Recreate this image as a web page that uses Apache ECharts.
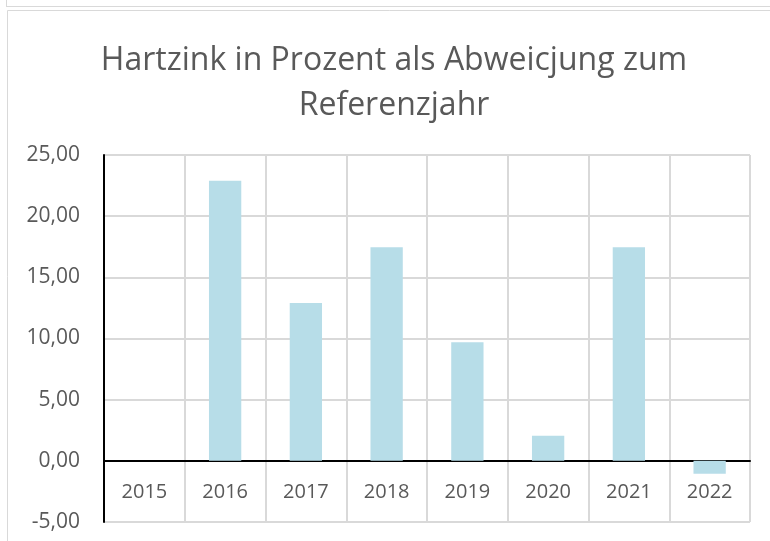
<!DOCTYPE html>
<html>
<head>
<meta charset="utf-8">
<script src="https://cdn.jsdelivr.net/npm/echarts@6/dist/echarts.min.js"></script>
<style>
  html, body { margin: 0; padding: 0; background: #fff; }
  #chart { width: 770px; height: 541px; }
</style>
</head>
<body>
<div id="chart"></div>
<script>
// Daten
var jahre = ['2015', '2016', '2017', '2018', '2019', '2020', '2021', '2022'];
var abweichung = [0, 22.9, 12.9, 17.45, 9.7, 2.05, 17.45, -1.05];
var titelText = 'Hartzink in Prozent als Abweicjung zum\nReferenzjahr';

var schrift = '"Open Sans", "Noto Sans", sans-serif';
var textFarbe = '#595959';
var gitterFarbe = '#d9d9d9';

var myChart = echarts.init(document.getElementById('chart'));

var option = {
    animation: false,
    title: {
        text: titelText,
        left: 389,
        textAlign: 'center',
        top: 33,
        textStyle: {
            fontFamily: schrift,
            fontSize: 32,
            fontWeight: 'normal',
            color: textFarbe,
            lineHeight: 45,
            align: 'center'
        }
    },
    graphic: [
        // Rahmen wie im Excel-Diagramm
        { type: 'line', shape: { x1: 6.5, y1: 0, x2: 6.5, y2: 6 }, style: { stroke: gitterFarbe, lineWidth: 1 } },
        { type: 'line', shape: { x1: 6, y1: 6.5, x2: 770, y2: 6.5 }, style: { stroke: gitterFarbe, lineWidth: 1 } },
        { type: 'rect', shape: { x: 7.5, y: 10.5, width: 800, height: 600 }, style: { fill: 'none', stroke: gitterFarbe, lineWidth: 1 } }
    ],
    grid: {
        left: 104,
        right: 20,
        top: 155,
        bottom: 19,
        containLabel: false,
        outerBoundsMode: 'none'
    },
    xAxis: {
        type: 'category',
        data: jahre,
        boundaryGap: true,
        axisLine: { onZero: true, lineStyle: { color: '#000', width: 2 } },
        axisTick: { show: false },
        axisLabel: {
            // Beschriftung unter der Nulllinie (zwischen 0 und -5)
            margin: -40,
            fontFamily: schrift,
            fontSize: 20,
            color: textFarbe
        },
        splitLine: { show: true, interval: 0, lineStyle: { color: gitterFarbe, width: 2 } }
    },
    yAxis: {
        type: 'value',
        min: -5,
        max: 25,
        interval: 5,
        axisLine: { show: true, onZero: false, lineStyle: { color: '#000', width: 2 } },
        axisTick: { show: false },
        axisLabel: {
            margin: 24,
            fontFamily: schrift,
            fontSize: 21,
            color: textFarbe,
            formatter: function (v) { return v.toFixed(2).replace('.', ','); }
        },
        splitLine: { show: true, lineStyle: { color: gitterFarbe, width: 2 } }
    },
    series: [
        {
            type: 'bar',
            data: abweichung,
            barWidth: '40%',
            itemStyle: { color: '#b7dde8' }
        }
    ]
};
myChart.setOption(option);
</script>
</body>
</html>
